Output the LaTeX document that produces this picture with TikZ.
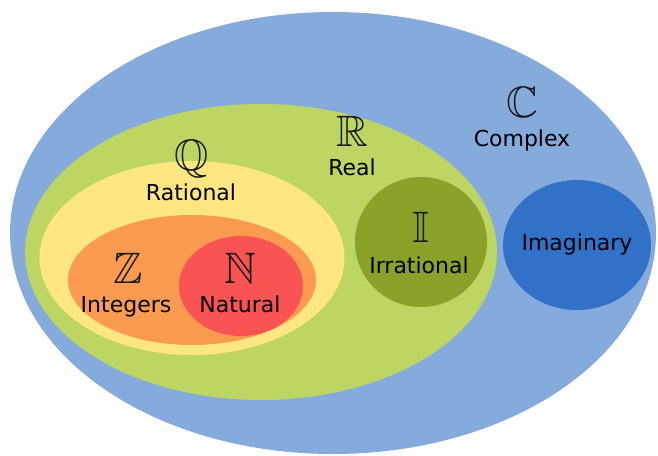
\documentclass[tikz,border=0pt]{standalone}
\usepackage{amssymb}
\usepackage{graphicx}
\usepackage{fontspec}
\setmainfont{DejaVu Sans}
\usetikzlibrary{shapes.geometric}
\definecolor{CxBlue}{RGB}{133,170,220}
\definecolor{ReGreen}{RGB}{189,213,98}
\definecolor{QuYellow}{RGB}{254,230,130}
\definecolor{ZiOrange}{RGB}{251,155,82}
\definecolor{NaRed}{RGB}{249,83,83}
\definecolor{IrOlive}{RGB}{138,161,42}
\definecolor{ImBlue}{RGB}{50,113,200}
\tikzset{
  numset/.style={ellipse,draw=none,inner sep=0pt},
  setsym/.style={anchor=base,inner sep=0pt,text=black!90},
  setname/.style={anchor=base,inner sep=0pt,text=black,
                  font=\fontsize{22}{22}\selectfont},
}
\newcommand{\bbsym}[1]{\scalebox{4.4}{$\mathbb{#1}$}}

\begin{document}
\begin{tikzpicture}[x=1pt,y=-1pt]
  \useasboundingbox (0,0) rectangle (658,455);
  % sets, outermost first
  \node[numset,fill=CxBlue,minimum width=646pt,minimum height=442pt]   (cx) at (333,233) {};
  \node[numset,fill=ReGreen,minimum width=472pt,minimum height=296pt]  (re) at (261,252) {};
  \node[numset,fill=QuYellow,minimum width=305pt,minimum height=194pt] (qu) at (192,258) {};
  \node[numset,fill=ZiOrange,minimum width=248pt,minimum height=130pt] (zi) at (192,280) {};
  \node[numset,fill=NaRed,minimum width=124pt,minimum height=100pt]    (na) at (241,286) {};
  \node[numset,fill=IrOlive,minimum width=132pt,minimum height=130pt]  (ir) at (421,242) {};
  \node[numset,fill=ImBlue,minimum width=148pt,minimum height=130pt]   (im) at (577,245) {};

  % symbols
  \node[setsym] (cxs) at (522,117) {\bbsym{C}};
  \node[setsym] (res) at (352,146) {\bbsym{R}};
  \node[setsym] (qus) at (192,170) {\bbsym{Q}};
  \node[setsym] (zis) at (128,283) {\bbsym{Z}};
  \node[setsym] (nas) at (240,283) {\bbsym{N}};
  \node[setsym] (irs) at (421,242) {\bbsym{I}};

  % names
  \node[setname] (cxn) at (522,146) {Complex};
  \node[setname] (ren) at (352,175) {Real};
  \node[setname] (qun) at (191,200) {Rational};
  \node[setname] (zin) at (126,312) {Integers};
  \node[setname] (nan) at (240,312) {Natural};
  \node[setname] (irn) at (419,273) {Irrational};
  \node[setname] (imn) at (577,250) {Imaginary};
\end{tikzpicture}
\end{document}
